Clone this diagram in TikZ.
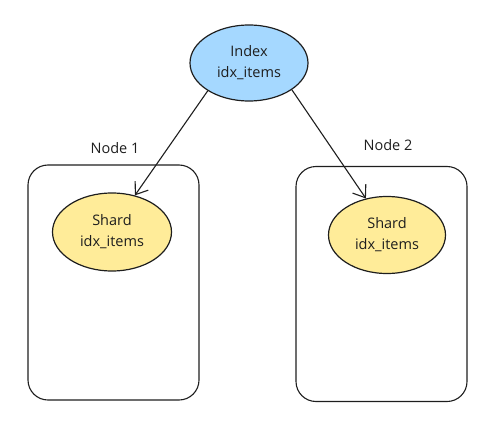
\documentclass[tikz,border=0pt]{standalone}
\usepackage{fontspec}
\setmainfont{Open Sans}
\usetikzlibrary{shapes.geometric,arrows.meta}
\definecolor{ink}{HTML}{1E1E1E}
\definecolor{idxblue}{HTML}{A5D8FF}
\definecolor{shardyellow}{HTML}{FFEC99}
\tikzset{
  ovalnode/.style={ellipse, draw=ink, line width=1.2pt, inner sep=0pt, align=center,
    font=\fontsize{14.5}{21}\selectfont, text=ink},
  hostbox/.style={rectangle, draw=ink, line width=1.1pt, rounded corners=20pt,
    minimum width=171pt, minimum height=235pt, inner sep=0pt},
  hostlabel/.style={font=\fontsize{14.5}{16}\selectfont, text=ink, inner sep=0pt},
  link/.style={draw=ink, line width=1.1pt, -{Straight Barb[length=11pt,width=16pt,line width=1.1pt]}}
}
\begin{document}
\begin{tikzpicture}[x=1pt,y=1pt]
\useasboundingbox (0,0) rectangle (502,426);
\node[hostbox] (host1) at (113.5,143.5) {};
\node[hostbox] (host2) at (381.5,142) {};
\node[hostlabel] (lab1) at (115,278) {Node 1};
\node[hostlabel] (lab2) at (388,281) {Node 2};
\node[ovalnode, fill=idxblue, minimum width=118pt, minimum height=76pt] (index) at (249,363) {Index\\idx\_items};
\node[ovalnode, fill=shardyellow, minimum width=119pt, minimum height=78pt] (shard1) at (112,194) {Shard\\idx\_items};
\node[ovalnode, fill=shardyellow, minimum width=117pt, minimum height=77pt] (shard2) at (387,191) {Shard\\idx\_items};
\draw[link] (index.214) -- (shard1.58);
\draw[link] (index.328) -- (shard2.120);
\end{tikzpicture}
\end{document}
